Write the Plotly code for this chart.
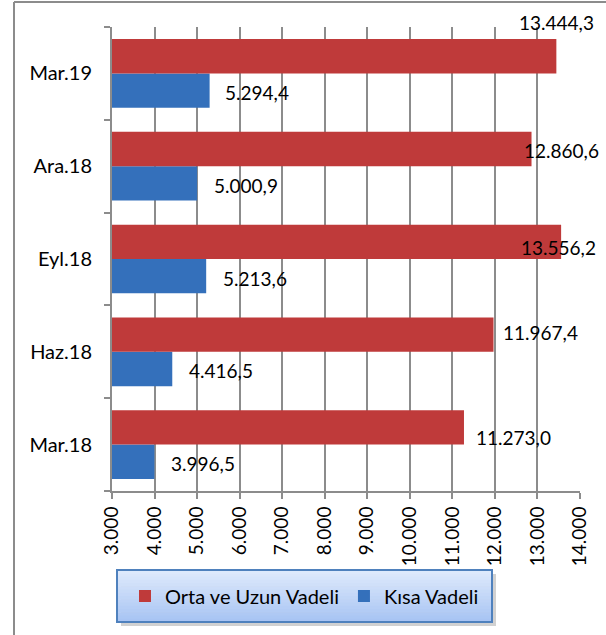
import plotly.graph_objects as go

# ---- data ----
categories = ["Mar.18", "Haz.18", "Eyl.18", "Ara.18", "Mar.19"]
orta_uzun = [11273.0, 11967.4, 13556.2, 12860.6, 13444.3]
kisa = [3996.5, 4416.5, 5213.6, 5000.9, 5294.4]
series_names = ["Orta ve Uzun Vadeli", "Kısa Vadeli"]
x_ticks = list(range(3000, 14001, 1000))

# label nudges (pixels) to mimic manually placed labels
red_xshift = [50, 47, -3, 30, 0]
red_yshift = [7.5, 19.5, 11.5, 15.5, 50.5]
blue_xshift = [15, 15, 15, 15, 13]
blue_yshift = [-18.5, -18.5, -19.5, -19.5, -19.5]

W, H = 606, 635
ML, MR, MT, MB = 112, 26, 27, 144
PW, PH = W - ML - MR, H - MT - MB

def px_x(px):
    return (px - ML) / PW

def px_y(py):
    return (H - MB - py) / PH

FONT = "Lato, Open Sans, sans-serif"
RED = "#bf3a3a"
BLUE = "#3470bb"

fig = go.Figure()
fig.add_trace(go.Bar(y=categories, x=kisa, orientation="h", name=series_names[1],
                     marker=dict(color=BLUE, line=dict(width=0)), legendrank=2))
fig.add_trace(go.Bar(y=categories, x=orta_uzun, orientation="h", name=series_names[0],
                     marker=dict(color=RED, line=dict(width=0)), legendrank=1))

def fmt(v):
    s = f"{v:,.1f}"
    return s.replace(",", "X").replace(".", ",").replace("X", ".")

annotations = []
for i, c in enumerate(categories):
    annotations.append(dict(x=orta_uzun[i], y=c, text=fmt(orta_uzun[i]), showarrow=False,
                            xanchor="center", yanchor="middle",
                            xshift=red_xshift[i], yshift=red_yshift[i],
                            font=dict(family=FONT, size=19, color="#000")))
    annotations.append(dict(x=kisa[i], y=c, text=fmt(kisa[i]), showarrow=False,
                            xanchor="left", yanchor="middle",
                            xshift=blue_xshift[i], yshift=blue_yshift[i],
                            font=dict(family=FONT, size=19, color="#000")))

shapes = []
# outer chart border (left and top)
shapes.append(dict(type="line", xref="paper", yref="paper", x0=px_x(14), x1=px_x(14),
                   y0=px_y(640), y1=px_y(2), line=dict(color="#8c8c8c", width=2)))
shapes.append(dict(type="line", xref="paper", yref="paper", x0=px_x(14), x1=px_x(610),
                   y0=px_y(2), y1=px_y(2), line=dict(color="#8c8c8c", width=2)))
# legend box: shadow, gradient fill, border
bx0, bx1, by0, by1 = 117, 492, 570, 622
shapes.append(dict(type="rect", xref="paper", yref="paper", x0=px_x(bx0 + 4), x1=px_x(bx1 + 4),
                   y0=px_y(by1 + 4), y1=px_y(by0 + 4), fillcolor="rgba(0,0,0,0.18)",
                   line=dict(width=0), layer="below"))
top_c = (224, 235, 252)
bot_c = (166, 195, 243)
N = 16
for k in range(N):
    t = (k + 0.5) / N
    col = tuple(int(round(top_c[j] + (bot_c[j] - top_c[j]) * t)) for j in range(3))
    ya = by0 + (by1 - by0) * k / N
    yb = by0 + (by1 - by0) * (k + 1) / N
    shapes.append(dict(type="rect", xref="paper", yref="paper", x0=px_x(bx0), x1=px_x(bx1),
                       y0=px_y(yb + 0.5), y1=px_y(ya), fillcolor=f"rgb{col}",
                       line=dict(width=0), layer="below"))
shapes.append(dict(type="rect", xref="paper", yref="paper", x0=px_x(bx0), x1=px_x(bx1),
                   y0=px_y(by1), y1=px_y(by0), fillcolor="rgba(0,0,0,0)",
                   line=dict(color="#4f81bd", width=2), layer="above"))

fig.update_layout(
    width=W, height=H,
    margin=dict(l=ML, r=MR, t=MT, b=MB, pad=0, autoexpand=False),
    paper_bgcolor="white", plot_bgcolor="white",
    separators=",.",
    barmode="group", bargap=0.26, bargroupgap=0,
    font=dict(family=FONT, size=20, color="#000"),
    showlegend=True,
    legend=dict(orientation="h", x=px_x((bx0 + bx1) / 2), xanchor="center",
                y=px_y((by0 + by1) / 2), yanchor="middle",
                bgcolor="rgba(0,0,0,0)", borderwidth=0,
                font=dict(family=FONT, size=20, color="#000"),
                itemwidth=30, traceorder="normal"),
    annotations=annotations,
    shapes=shapes,
)
fig.update_xaxes(range=[3000, 14000], autorange=False, tickmode="array", tickvals=x_ticks,
                 tickformat=",d", tickangle=-90,
                 showgrid=True, gridcolor="#8c8c8c", gridwidth=1.5,
                 showline=True, linecolor="#8c8c8c", linewidth=2,
                 ticks="outside", ticklen=6, tickcolor="#8c8c8c", tickwidth=1.5,
                 zeroline=False, automargin=False,
                 tickfont=dict(family=FONT, size=19, color="#000"))
fig.update_yaxes(type="category", categoryorder="array", categoryarray=categories,
                 range=[-0.5, len(categories) - 0.5], autorange=False,
                 showgrid=False, showline=True, linecolor="#8c8c8c", linewidth=2,
                 ticks="outside", ticklen=6, tickcolor="#8c8c8c", tickwidth=1.5,
                 tickson="boundaries", ticklabelstandoff=14, automargin=False,
                 tickfont=dict(family=FONT, size=20, color="#000"))

fig.write_html(
    "out.html",
    config={"displayModeBar": False},
    post_script="document.body.style.margin='0';document.body.style.overflow='hidden';",
)
